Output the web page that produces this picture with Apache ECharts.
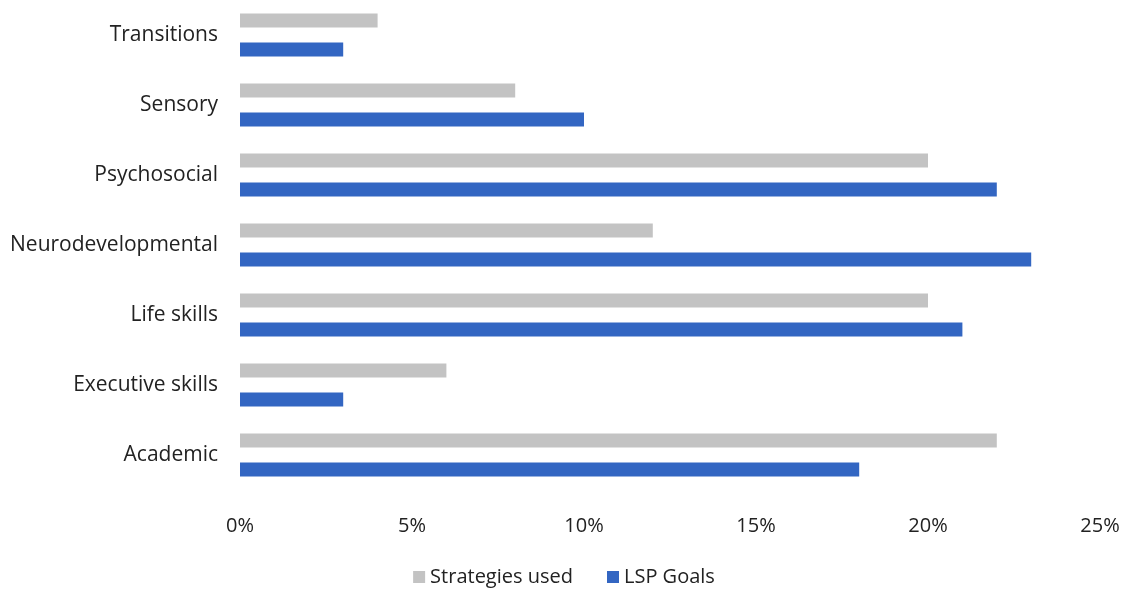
<!DOCTYPE html>
<html>
<head>
<meta charset="utf-8">
<script src="https://cdn.jsdelivr.net/npm/echarts@6/dist/echarts.min.js"></script>
<style>
  html, body { margin: 0; padding: 0; background: #ffffff; }
  #chart { width: 1128px; height: 589px; }
</style>
</head>
<body>
<div id="chart"></div>
<script>
// Categories listed top to bottom
const categories = ['Transitions', 'Sensory', 'Psychosocial', 'Neurodevelopmental', 'Life skills', 'Executive skills', 'Academic'];
// Share of items per category (%)
const strategiesUsed = [4, 8, 20, 12, 20, 6, 22];
const lspGoals = [3, 10, 22, 23, 21, 3, 18];
const xTicks = [0, 5, 10, 15, 20, 25];

const font = "'Open Sans', sans-serif";

const chart = echarts.init(document.getElementById('chart'));
chart.setOption({
  animation: false,
  textStyle: { fontFamily: font },
  grid: { left: 240, right: 28, top: -10, height: 500, containLabel: false },
  legend: {
    bottom: -3,
    left: 'center',
    itemWidth: 12,
    itemHeight: 12,
    itemGap: 34,
    icon: 'rect',
    textStyle: { fontSize: 20, color: '#222', fontFamily: font },
    data: ['Strategies used', 'LSP Goals']
  },
  xAxis: {
    type: 'value',
    min: xTicks[0],
    max: xTicks[xTicks.length - 1],
    interval: 5,
    axisLine: { show: false },
    axisTick: { show: false },
    splitLine: { show: false },
    axisLabel: {
      margin: 26,
      fontSize: 20,
      color: '#222',
      fontFamily: font,
      formatter: v => v + '%'
    }
  },
  yAxis: {
    type: 'category',
    inverse: true,
    data: categories,
    axisLine: { show: false },
    axisTick: { show: false },
    axisLabel: { margin: 22, fontSize: 21, color: '#222', fontFamily: font }
  },
  series: [
    {
      name: 'Strategies used',
      type: 'bar',
      data: strategiesUsed,
      barWidth: 14,
      barGap: '107%',
      itemStyle: { color: '#c3c3c3' }
    },
    {
      name: 'LSP Goals',
      type: 'bar',
      data: lspGoals,
      barWidth: 14,
      barGap: '107%',
      itemStyle: { color: '#3366c2' }
    }
  ]
});
</script>
</body>
</html>
